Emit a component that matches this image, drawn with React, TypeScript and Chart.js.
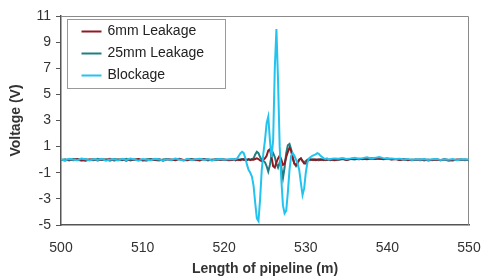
import React, { useEffect, useRef } from "react";
import { Chart, registerables } from "chart.js";

Chart.register(...registerables);

const seriesNames = ["6mm Leakage", "25mm Leakage", "Blockage"];
const seriesColors = ["#8E1B22", "#1F7F80", "#22C3EE"];

const positionsBefore = [500, 500.5, 501, 501.5, 502, 502.5, 503, 503.5, 504, 504.5, 505, 505.5, 506, 506.5, 507, 507.5, 508, 508.5, 509, 509.5, 510, 510.5, 511, 511.5, 512, 512.5, 513, 513.5, 514, 514.5, 515, 515.5, 516, 516.5, 517, 517.5, 518, 518.5, 519, 519.5, 520, 520.5];
const positionsEvent = [521, 521.2, 521.4, 521.6, 521.8, 522, 522.2, 522.4, 522.6, 522.8, 523, 523.2, 523.4, 523.6, 523.8, 524, 524.2, 524.4, 524.6, 524.8, 525, 525.2, 525.4, 525.6, 525.8, 526, 526.2, 526.4, 526.6, 526.8, 527, 527.2, 527.4, 527.6, 527.8, 528, 528.2, 528.4, 528.6, 528.8, 529, 529.2, 529.4, 529.6, 529.8, 530, 530.2, 530.4, 530.6, 530.8, 531, 531.2, 531.4, 531.6, 531.8, 532, 532.2, 532.4, 532.6, 532.8];
const positionsAfter = [533, 533.5, 534, 534.5, 535, 535.5, 536, 536.5, 537, 537.5, 538, 538.5, 539, 539.5, 540, 540.5, 541, 541.5, 542, 542.5, 543, 543.5, 544, 544.5, 545, 545.5, 546, 546.5, 547, 547.5, 548, 548.5, 549, 549.5, 550];

const leak6Before = [0.0, -0.06, 0.03, -0.04, 0.05, -0.02, -0.08, 0.02, 0.04, -0.05, 0.03, -0.03, 0.06, -0.06, 0.0, 0.03, -0.07, 0.04, -0.02, 0.05, -0.04, -0.06, 0.02, 0.0, 0.05, -0.08, 0.03, 0.01, -0.04, 0.06, -0.02, -0.05, 0.03, 0.0, -0.06, 0.04, 0.02, -0.04, 0.05, -0.03, 0.02, -0.05];
const leak6Event = [-0.03, 0.02, -0.05, 0.03, 0.0, -0.04, 0.02, 0.04, -0.03, 0.0, 0.03, -0.04, 0.02, 0.0, 0.05, 0.1, 0.05, -0.05, -0.1, 0.0, 0.1, 0.3, 0.7, 0.8, 0.2, -0.5, -0.6, -0.2, 0.1, 0.3, 0.0, -0.4, -0.3, 0.2, 0.6, 0.9, 0.7, 0.1, -0.3, -0.4, -0.2, 0.0, 0.1, -0.1, -0.3, -0.3, -0.1, 0.0, 0.03, -0.02, 0.02, -0.04, 0.0, 0.03, -0.02, 0.01, -0.03, 0.02, 0.0, -0.02];
const leak6After = [0.03, -0.05, 0.02, 0.06, -0.02, 0.05, 0.08, 0.03, 0.07, 0.04, 0.1, 0.06, 0.09, 0.04, 0.07, 0.02, 0.05, -0.03, 0.03, 0.0, -0.05, 0.02, -0.04, 0.03, -0.06, 0.0, 0.02, -0.04, 0.03, -0.02, -0.06, 0.01, -0.03, 0.02, -0.04];

const leak25Before = [-0.03, 0.04, -0.06, 0.05, 0.02, -0.07, 0.04, 0.0, -0.05, 0.06, -0.02, 0.03, -0.08, 0.05, 0.01, -0.04, 0.07, -0.05, 0.02, 0.04, -0.06, 0.03, 0.05, -0.03, -0.07, 0.02, 0.06, -0.05, 0.0, 0.04, -0.06, 0.03, 0.05, -0.04, 0.01, 0.06, -0.05, 0.02, -0.03, 0.05, 0.0, -0.02];
const leak25Event = [0.02, -0.03, 0.04, 0.0, -0.04, 0.03, 0.05, -0.02, 0.02, -0.03, 0.04, 0.0, 0.05, 0.1, 0.4, 0.6, 0.5, 0.2, 0.0, -0.1, -0.2, -0.5, -0.9, -0.4, 0.3, 0.5, 0.2, -0.3, -0.6, -0.2, -0.6, -1.4, -0.6, 0.5, 1.1, 1.2, 0.8, 0.2, -0.3, -0.5, -0.3, 0.0, 0.1, -0.1, -0.2, -0.1, 0.0, 0.05, -0.03, 0.02, -0.04, 0.03, 0.0, -0.05, 0.04, -0.02, 0.03, -0.04, 0.02, 0.0];
const leak25After = [-0.04, 0.03, 0.0, 0.05, -0.03, 0.06, 0.02, 0.08, 0.04, 0.1, 0.06, 0.12, 0.08, 0.05, 0.09, 0.03, 0.06, -0.02, 0.04, -0.05, 0.02, -0.03, 0.04, -0.06, 0.01, -0.04, 0.03, -0.05, 0.02, -0.07, 0.0, -0.03, 0.04, -0.05, 0.01];

const blockBefore = [0.02, -0.05, 0.06, 0.0, -0.04, 0.08, 0.03, -0.06, 0.05, -0.02, 0.07, -0.08, 0.01, 0.04, -0.05, 0.06, -0.03, 0.08, 0.02, -0.07, 0.05, 0.0, -0.04, 0.07, 0.03, -0.06, 0.04, -0.02, 0.08, 0.01, -0.05, 0.06, -0.03, 0.04, 0.07, -0.02, 0.05, -0.06, 0.03, 0.06, -0.01, 0.04];
const blockEvent = [0.05, 0.0, 0.05, 0.1, 0.3, 0.5, 0.6, 0.5, 0.1, -0.4, -0.8, -1.0, -1.3, -2.0, -3.3, -4.5, -4.7, -3.0, -0.8, 0.5, 1.5, 2.8, 3.3, 1.5, 0.2, 1.5, 7.0, 10.0, 6.0, 1.0, -1.5, -3.5, -4.1, -3.9, -2.5, -0.8, 0.3, 0.5, 0.3, 0.0, -0.3, -0.8, -1.8, -2.7, -2.2, -1.0, -0.2, 0.1, 0.2, 0.3, 0.35, 0.4, 0.5, 0.45, 0.3, 0.2, 0.1, 0.05, 0.1, 0.0];
const blockAfter = [0.05, 0.1, 0.08, 0.12, 0.06, 0.1, 0.15, 0.08, 0.12, 0.18, 0.1, 0.14, 0.2, 0.12, 0.08, 0.1, 0.05, 0.08, 0.02, 0.06, -0.02, 0.04, 0.0, 0.05, -0.03, 0.03, 0.06, -0.02, 0.04, 0.0, 0.05, -0.04, 0.02, 0.03, -0.01];

const xTicks = [500, 510, 520, 530, 540, 550];
const yTicks = [-5, -3, -1, 1, 3, 5, 7, 9, 11];

const positions = [...positionsBefore, ...positionsEvent, ...positionsAfter];
const seriesValues = [
  [...leak6Before, ...leak6Event, ...leak6After],
  [...leak25Before, ...leak25Event, ...leak25After],
  [...blockBefore, ...blockEvent, ...blockAfter],
];

const FONT = "'Liberation Sans', Arial, sans-serif";

const framePlugin = {
  id: "frame",
  beforeDatasetsDraw(chart: any) {
    const { ctx, chartArea } = chart;
    ctx.save();
    ctx.strokeStyle = "#8a8a8a";
    ctx.lineWidth = 1;
    ctx.beginPath();
    ctx.moveTo(chartArea.left, chartArea.top + 0.5);
    ctx.lineTo(chartArea.right - 0.5, chartArea.top + 0.5);
    ctx.lineTo(chartArea.right - 0.5, chartArea.bottom);
    ctx.stroke();
    ctx.restore();
  },
};

const legendPlugin = {
  id: "boxLegend",
  afterDraw(chart: any) {
    const { ctx, chartArea } = chart;
    const x0 = chartArea.left + 6.5;
    const y0 = chartArea.top + 3.5;
    ctx.save();
    ctx.fillStyle = "#ffffff";
    ctx.fillRect(x0, y0, 158, 69);
    ctx.strokeStyle = "#9a9a9a";
    ctx.lineWidth = 1;
    ctx.strokeRect(x0, y0, 158, 69);
    ctx.font = `14px ${FONT}`;
    ctx.textBaseline = "middle";
    ctx.textAlign = "left";
    chart.data.datasets.forEach((ds: any, i: number) => {
      const y = y0 + 12 + i * 22;
      ctx.strokeStyle = ds.borderColor;
      ctx.lineWidth = 2;
      ctx.beginPath();
      ctx.moveTo(x0 + 14, y);
      ctx.lineTo(x0 + 34, y);
      ctx.stroke();
      ctx.fillStyle = "#222";
      ctx.fillText(ds.label, x0 + 40, y);
    });
    ctx.restore();
  },
};

export default function App() {
  const ref = useRef<HTMLCanvasElement>(null);
  useEffect(() => {
    document.body.style.margin = "0";
    const canvas = ref.current!;
    const chart = new Chart(canvas, {
      type: "line",
      data: {
        datasets: seriesNames.map((name, s) => ({
          label: name,
          data: positions.map((x, i) => ({ x, y: seriesValues[s][i] })),
          borderColor: seriesColors[s],
          backgroundColor: seriesColors[s],
          borderWidth: 2,
          pointRadius: 0,
          tension: 0,
          fill: false,
          order: s === 2 ? 0 : s + 1,
        })),
      },
      options: {
        responsive: false,
        animation: false,
        events: [],
        layout: { padding: { left: 0, right: 0, top: 16, bottom: 0 } },
        plugins: { legend: { display: false }, tooltip: { enabled: false } },
        scales: {
          x: {
            type: "linear",
            min: 500,
            max: 550,
            afterBuildTicks(scale: any) {
              scale.ticks = xTicks.map((v) => ({ value: v }));
            },
            afterFit(scale: any) {
              scale.height = 54;
              scale.paddingRight = 12;
            },
            grid: { display: true, drawOnChartArea: false, drawTicks: false },
            border: { color: "#555", width: 1.5 },
            ticks: { padding: 15, color: "#333", font: { family: FONT, size: 14 } },
            title: {
              display: true,
              text: "Length of pipeline (m)",
              color: "#333",
              font: { family: FONT, size: 14, weight: "bold" },
              padding: { top: 0, bottom: 1 },
            },
          },
          y: {
            type: "linear",
            min: -5,
            max: 11,
            afterBuildTicks(scale: any) {
              scale.ticks = yTicks.map((v) => ({ value: v }));
            },
            afterFit(scale: any) {
              scale.width = 61;
            },
            grid: { display: true, drawOnChartArea: false, drawTicks: true, tickLength: 5, color: "#555" },
            border: { color: "#555", width: 1.5 },
            ticks: { padding: 5, color: "#333", font: { family: FONT, size: 14 } },
            title: {
              display: true,
              text: "Voltage (V)",
              color: "#333",
              font: { family: FONT, size: 14, weight: "bold" },
              padding: { top: 8, bottom: 0 },
            },
          },
        },
      },
      plugins: [framePlugin, legendPlugin],
    } as any);
    return () => chart.destroy();
  }, []);
  return (
    <div style={{ width: 481, height: 279, background: "#fff" }}>
      <canvas ref={ref} width={481} height={279} style={{ display: "block" }} />
    </div>
  );
}
